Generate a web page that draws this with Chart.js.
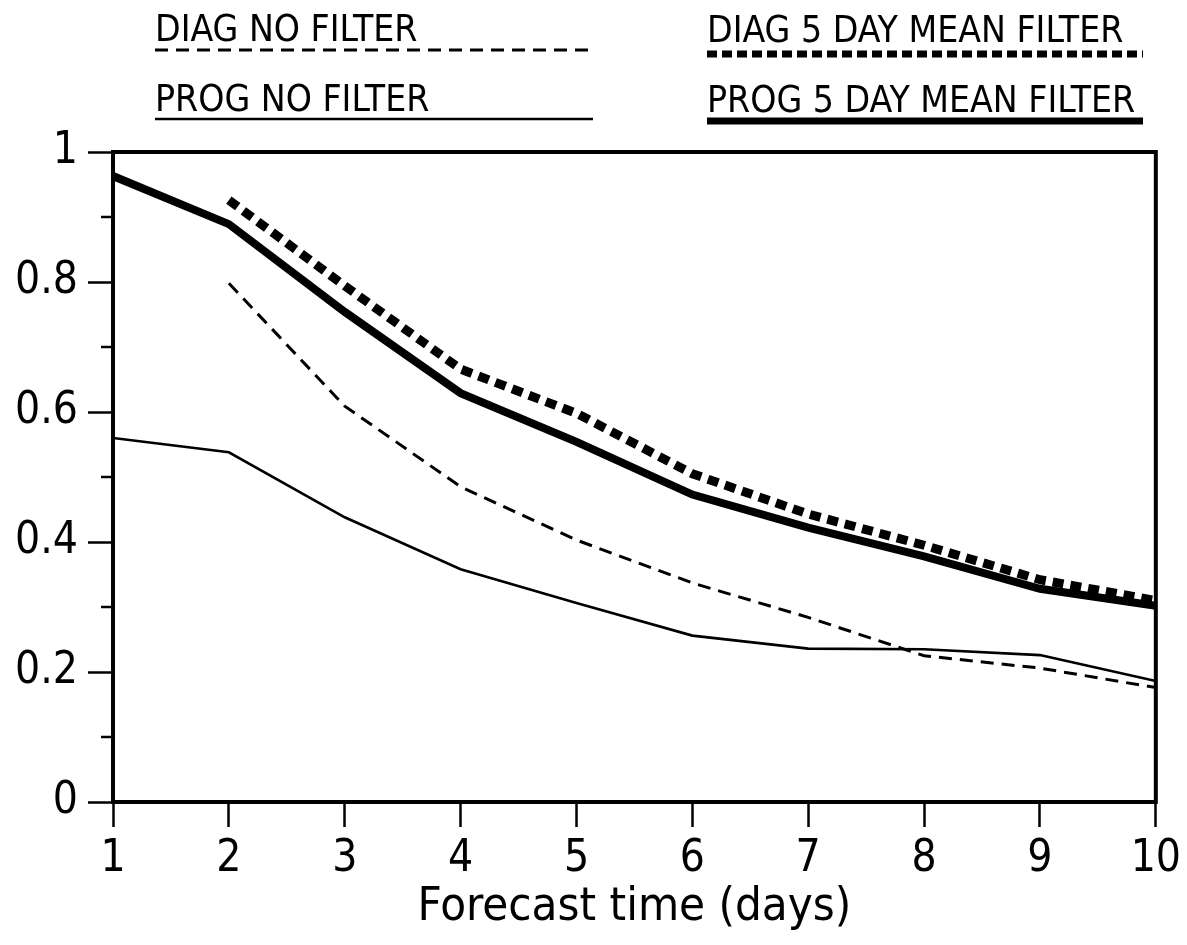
<!DOCTYPE html>
<html>
<head>
<meta charset="utf-8">
<script src="https://cdn.jsdelivr.net/npm/chart.js@4/dist/chart.umd.min.js"></script>
<style>
  html, body { margin: 0; padding: 0; background: #ffffff; }
  #wrap { width: 1187px; height: 945px; }
</style>
</head>
<body>
<div id="wrap"><canvas id="c" width="1187" height="945"></canvas></div>
<script>
// ---- data ----
const days = [1, 2, 3, 4, 5, 6, 7, 8, 9, 10];
const diagNoFilter = [null, 0.798, 0.609, 0.485, 0.403, 0.337, 0.284, 0.225, 0.206, 0.176];
const progNoFilter = [0.560, 0.538, 0.438, 0.358, 0.306, 0.256, 0.236, 0.235, 0.226, 0.186];
const diag5DayMean = [null, 0.926, 0.794, 0.666, 0.598, 0.505, 0.443, 0.395, 0.342, 0.310];
const prog5DayMean = [0.963, 0.889, 0.754, 0.629, 0.554, 0.473, 0.422, 0.378, 0.328, 0.302];
const seriesLabels = ['DIAG NO FILTER', 'PROG NO FILTER', 'DIAG 5 DAY MEAN FILTER', 'PROG 5 DAY MEAN FILTER'];
const xTickValues = [1, 2, 3, 4, 5, 6, 7, 8, 9, 10];
const yTickValues = [0, 0.2, 0.4, 0.6, 0.8, 1];
const yMinorTickValues = [0.1, 0.3, 0.5, 0.7, 0.9];
const xTitle = 'Forecast time (days)';

const toPts = arr => days.map((d, i) => ({ x: d, y: arr[i] })).filter(p => p.y !== null);

const INK = '#000000';
const FONT_AXIS = '"DejaVu Sans Condensed", "DejaVu Sans", sans-serif';

const datasets = [
  { label: seriesLabels[0], data: toPts(diagNoFilter), borderColor: INK, borderWidth: 3, borderDash: [13, 8] },
  { label: seriesLabels[1], data: toPts(progNoFilter), borderColor: INK, borderWidth: 2.6 },
  { label: seriesLabels[2], data: toPts(diag5DayMean), borderColor: INK, borderWidth: 9, borderDash: [11, 7] },
  { label: seriesLabels[3], data: toPts(prog5DayMean), borderColor: INK, borderWidth: 8 }
].map(d => Object.assign(d, { pointRadius: 0, fill: false, tension: 0, borderCapStyle: 'butt', borderJoinStyle: 'miter' }));

// legend layout (drawn manually above the plot, styled like the datasets)
const legendItems = [
  { idx: 0, x: 155, textY: 41, lineY: 50, x2: 593, width: 3, dash: [13, 8] },
  { idx: 1, x: 155, textY: 111, lineY: 119, x2: 593, width: 2.6, dash: [] },
  { idx: 2, x: 707, textY: 42, lineY: 54, x2: 1143, width: 7, dash: [10, 5] },
  { idx: 3, x: 707, textY: 112, lineY: 121, x2: 1143, width: 7, dash: [] }
];

const decorPlugin = {
  id: 'decor',
  beforeDraw(chart) {
    const ctx = chart.ctx;
    ctx.save();
    ctx.fillStyle = '#ffffff';
    ctx.fillRect(0, 0, chart.width, chart.height);
    ctx.restore();
  },
  afterDraw(chart) {
    const ctx = chart.ctx;
    const a = chart.chartArea;
    const ys = chart.scales.y;
    ctx.save();
    // frame
    ctx.strokeStyle = INK;
    ctx.lineWidth = 4;
    ctx.strokeRect(a.left, a.top, a.right - a.left, a.bottom - a.top);
    // minor y ticks
    ctx.lineWidth = 2.5;
    yMinorTickValues.forEach(v => {
      const y = ys.getPixelForValue(v);
      ctx.beginPath();
      ctx.moveTo(a.left - 12, y);
      ctx.lineTo(a.left, y);
      ctx.stroke();
    });
    // legend
    ctx.fillStyle = INK;
    ctx.textBaseline = 'alphabetic';
    ctx.textAlign = 'left';
    ctx.font = '37px "DejaVu Sans Condensed", "DejaVu Sans", sans-serif';
    legendItems.forEach(it => {
      ctx.fillText(chart.data.datasets[it.idx].label, it.x, it.textY);
      ctx.beginPath();
      ctx.setLineDash(it.dash);
      ctx.lineWidth = it.width;
      ctx.lineCap = 'butt';
      ctx.moveTo(it.x, it.lineY);
      ctx.lineTo(it.x2, it.lineY);
      ctx.stroke();
    });
    ctx.restore();
  }
};

new Chart(document.getElementById('c'), {
  type: 'line',
  data: { datasets },
  options: {
    responsive: false,
    animation: false,
    events: [],
    layout: { padding: { top: 152, right: 30, left: 0, bottom: 0 } },
    plugins: { legend: { display: false }, tooltip: { enabled: false } },
    scales: {
      x: {
        type: 'linear',
        min: 1,
        max: 10,
        afterBuildTicks: s => { s.ticks = xTickValues.map(v => ({ value: v })); },
        afterFit: s => { s.height = 143; },
        ticks: {
          color: INK,
          padding: 6,
          font: { family: FONT_AXIS, size: 44 },
          callback: v => String(v)
        },
        grid: { drawOnChartArea: false, tickLength: 25, tickWidth: 2.5, tickColor: INK },
        border: { display: false },
        title: {
          display: true,
          text: xTitle,
          color: INK,
          font: { family: FONT_AXIS, size: 47 },
          padding: { top: 0, bottom: 9 }
        }
      },
      y: {
        min: 0,
        max: 1,
        afterBuildTicks: s => { s.ticks = yTickValues.map(v => ({ value: v })); },
        afterFit: s => { s.width = 113; },
        ticks: {
          color: INK,
          padding: 10,
          font: { family: FONT_AXIS, size: 44 },
          callback: v => String(Math.round(v * 10) / 10)
        },
        grid: { drawOnChartArea: false, tickLength: 25, tickWidth: 2.5, tickColor: INK },
        border: { display: false }
      }
    }
  },
  plugins: [decorPlugin]
});
</script>
</body>
</html>
